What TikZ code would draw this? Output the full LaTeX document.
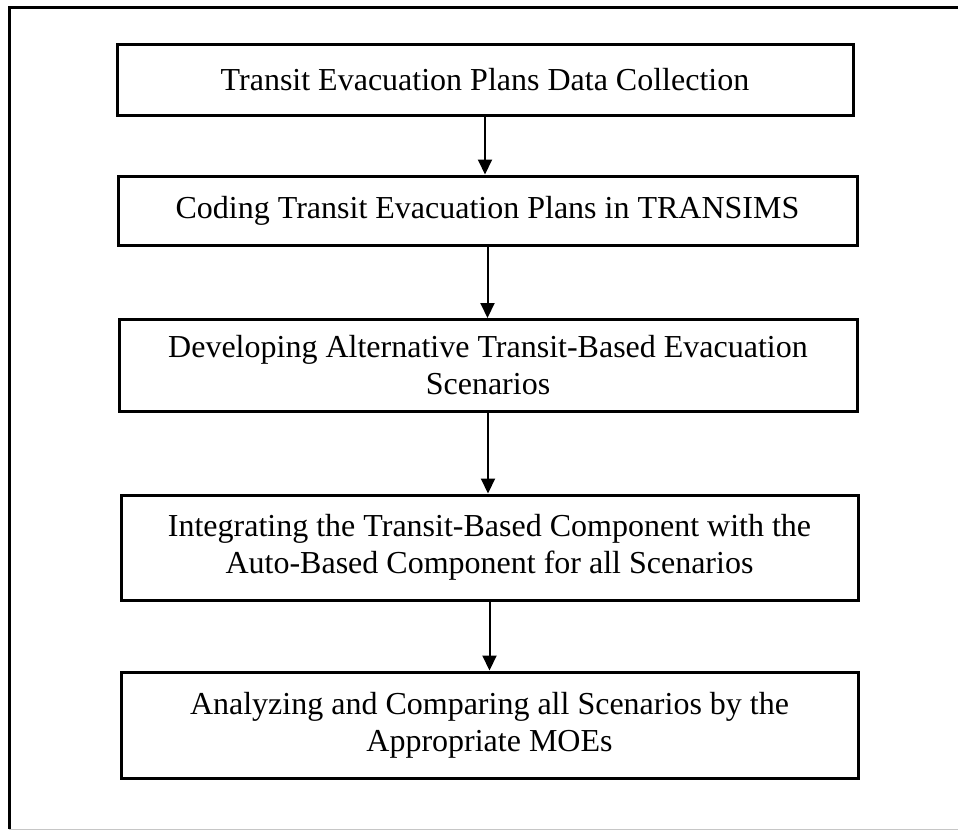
\documentclass[tikz,border=0pt]{standalone}
\usepackage{fontspec}
\setmainfont{Liberation Serif}
\usepackage{tikz}
\usetikzlibrary{arrows.meta,positioning}

\tikzset{
  stepbox/.style={draw,line width=3pt,align=center,inner sep=0pt,
    font=\fontsize{32}{37}\selectfont},
  flow/.style={line width=2pt,-{Triangle[length=15pt,width=14pt]}}
}

\begin{document}
\begin{tikzpicture}[x=1pt,y=-1pt]
\useasboundingbox (0,0) rectangle (958,831);
% outer frame (cut at the right)
\draw[line width=3pt] (9,829) -- (9,7) -- (960,7);
\draw[gray!45,line width=1.2pt] (9,829.5) -- (958,829.5);
% steps
\node[stepbox,minimum width=736,minimum height=71] (collect) at (485,79.5)
  {Transit Evacuation Plans Data Collection};
\node[stepbox,minimum width=739,minimum height=69] (coding) at (487.5,210.5)
  {Coding Transit Evacuation Plans in TRANSIMS};
\node[stepbox,minimum width=738,minimum height=92] (develop) at (488,365.5)
  {Developing Alternative Transit-Based Evacuation\\Scenarios};
\node[stepbox,minimum width=737,minimum height=105] (integrate) at (489.5,547.5)
  {Integrating the Transit-Based Component with the\\Auto-Based Component for all Scenarios};
\node[stepbox,minimum width=737,minimum height=106] (analyze) at (489.5,725)
  {Analyzing and Comparing all Scenarios by the\\Appropriate MOEs};
% arrows
\foreach \a/\b in {collect/coding,coding/develop,develop/integrate,integrate/analyze}
  \draw[flow] (\a.south) -- (\a.south |- \b.north);
\end{tikzpicture}
\end{document}
